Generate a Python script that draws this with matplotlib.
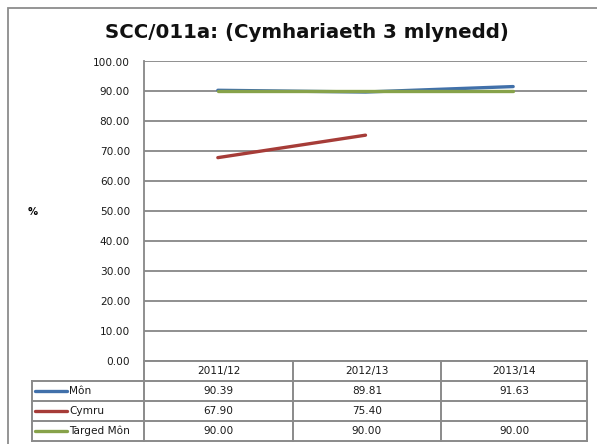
import numpy as np
import matplotlib
matplotlib.use("Agg")
import matplotlib.pyplot as plt
from matplotlib.lines import Line2D
from matplotlib.patches import Rectangle

plt.rcParams['font.family'] = ['DejaVu Sans']

title = "SCC/011a: (Cymhariaeth 3 mlynedd)"
categories = ["2011/12", "2012/13", "2013/14"]
series_names = ["Môn", "Cymru", "Targed Môn"]
mon = [90.39, 89.81, 91.63]
cymru = [67.90, 75.40, None]
targed = [90.00, 90.00, 90.00]
series_values = [mon, cymru, targed]
colors = ["#4170AA", "#A63C38", "#87A24A"]
yticks = [0, 10, 20, 30, 40, 50, 60, 70, 80, 90, 100]

W, H = 597, 444
fig = plt.figure(figsize=(W / 100, H / 100), dpi=100)
fig.patch.set_facecolor("white")

def fx(x):
    return x / W

def fy(y):
    return 1 - y / H

grid_c = "#878787"
table_c = "#8a8a8a"
txt_c = "#1a1a1a"

# outer border
fig.add_artist(Rectangle((fx(8), fy(H + 10)), fx(W + 10) - fx(8), fy(8) - fy(H + 10),
                         transform=fig.transFigure, fill=False, edgecolor="#8c8c8c", lw=1.3))

# plot area
left, right, top, bottom = 144, 587, 61.5, 361
ax = fig.add_axes([fx(left), fy(bottom), fx(right) - fx(left), fy(top) - fy(bottom)])
ax.set_xlim(-0.5, len(categories) - 0.5)
ax.set_ylim(0, 100)
ax.set_yticks(yticks)
ax.set_yticklabels([f"{v:.2f}" for v in yticks], fontsize=7.6, color=txt_c)
ax.tick_params(axis="y", length=0, pad=10)
ax.set_xticks([])
for s in ["top", "right", "bottom"]:
    ax.spines[s].set_visible(False)
ax.spines["left"].set_color(grid_c)
ax.spines["left"].set_linewidth(1.3)
ax.yaxis.grid(True, color=grid_c, lw=1.3)
ax.set_axisbelow(True)

x = np.arange(len(categories))
for vals, c in zip(series_values, colors):
    y = np.array([np.nan if v is None else v for v in vals], dtype=float)
    ax.plot(x, y, color=c, lw=2.4, solid_capstyle="round")

fig.text(fx(307), fy(33), title, ha="center", va="center", fontsize=14.2, fontweight="bold", color="#111111")
fig.text(fx(33), fy(212), "%", ha="center", va="center", fontsize=7.2, fontweight="bold")

# data table
col_edges = [left, 293, 441, right]
row_edges = [361, 380.5, 401, 421, 441]
lab_left = 32

def hline(x0, x1, y):
    fig.add_artist(Line2D([fx(x0), fx(x1)], [fy(y), fy(y)], transform=fig.transFigure, color=table_c, lw=1.4))

def vline(x, y0, y1):
    fig.add_artist(Line2D([fx(x), fx(x)], [fy(y0), fy(y1)], transform=fig.transFigure, color=table_c, lw=1.4))

hline(left, right, row_edges[0])
for yv in row_edges[1:]:
    hline(lab_left, right, yv)
for xv in col_edges:
    vline(xv, row_edges[0], row_edges[-1])
vline(lab_left, row_edges[1], row_edges[-1])

fs = 7.6
for j, cat in enumerate(categories):
    cx = (col_edges[j] + col_edges[j + 1]) / 2
    cy = (row_edges[0] + row_edges[1]) / 2
    fig.text(fx(cx), fy(cy), cat, ha="center", va="center", fontsize=fs, color=txt_c)

for i, (name, vals, c) in enumerate(zip(series_names, series_values, colors)):
    cy = (row_edges[i + 1] + row_edges[i + 2]) / 2
    fig.add_artist(Line2D([fx(35), fx(67)], [fy(cy), fy(cy)], transform=fig.transFigure, color=c, lw=2.4,
                          solid_capstyle="round"))
    fig.text(fx(69), fy(cy), name, ha="left", va="center", fontsize=fs, color=txt_c)
    for j, v in enumerate(vals):
        if v is None:
            continue
        cx = (col_edges[j] + col_edges[j + 1]) / 2
        fig.text(fx(cx), fy(cy), f"{v:.2f}", ha="center", va="center", fontsize=fs, color=txt_c)

fig.savefig("out.png", dpi=100)
